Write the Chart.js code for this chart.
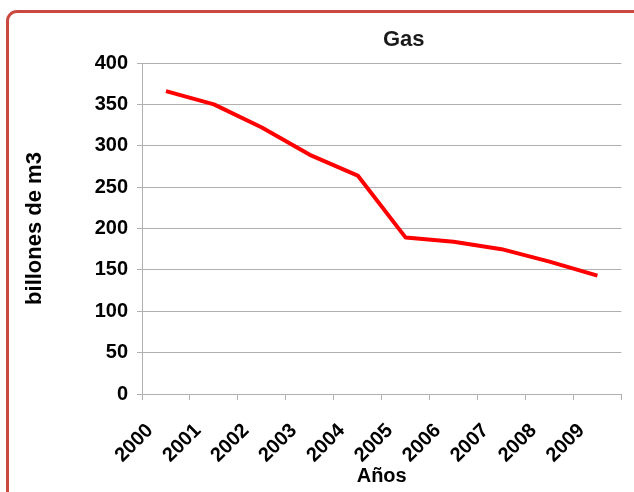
<!DOCTYPE html>
<html>
<head>
<meta charset="utf-8">
<script src="https://cdn.jsdelivr.net/npm/chart.js@4/dist/chart.umd.min.js"></script>
<style>
  html, body { margin: 0; padding: 0; background: #fff; overflow: hidden; }
  #wrap { position: relative; width: 634px; height: 492px; }
  #frame {
    position: absolute; left: 6px; top: 10px; width: 640px; height: 500px;
    border: 3px solid #c9483f; border-radius: 11px; box-sizing: border-box;
  }
  #c { position: absolute; left: 0; top: 0; }
</style>
</head>
<body>
<div id="wrap">
  <div id="frame"></div>
  <canvas id="c" width="634" height="492"></canvas>
</div>
<script>
// data
var years = ['2000', '2001', '2002', '2003', '2004', '2005', '2006', '2007', '2008', '2009'];
var gas = [366, 350, 322, 289, 264, 189, 184, 175, 160, 143];
var yTicks = [0, 50, 100, 150, 200, 250, 300, 350, 400];

var chartTitle = 'Gas';
var yTitle = 'billones de m3';
var xTitle = 'Años';

var fontFam = '"Liberation Sans", Arial, sans-serif';
var gridColor = '#b0b0b0';

// Excel style title, sits a bit right of the plot centre
var titlePlugin = {
  id: 'gasTitle',
  afterDraw: function(chart) {
    var ctx = chart.ctx;
    var a = chart.chartArea;
    ctx.save();
    ctx.font = 'bold 22px ' + fontFam;
    ctx.fillStyle = '#1a1a1a';
    ctx.textAlign = 'center';
    ctx.textBaseline = 'alphabetic';
    ctx.fillText(chartTitle, (a.left + a.right) / 2 + 22, 46);
    ctx.restore();
  }
};

var ctx = document.getElementById('c').getContext('2d');
var gasChart = new Chart(ctx, {
  type: 'line',
  data: {
    labels: years,
    datasets: [{
      label: chartTitle,
      data: gas,
      borderColor: '#ff0000',
      borderWidth: 4,
      pointRadius: 0,
      tension: 0,
      fill: false,
      borderJoinStyle: 'round',
      borderCapStyle: 'butt'
    }]
  },
  options: {
    responsive: false,
    animation: false,
    layout: { padding: { left: 0, right: 12, top: 63, bottom: 0 } },
    plugins: {
      legend: { display: false },
      tooltip: { enabled: false },
      title: { display: false }
    },
    scales: {
      x: {
        offset: true,
        grid: {
          offset: true,
          drawOnChartArea: false,
          drawTicks: true,
          tickLength: 6,
          color: gridColor
        },
        border: { color: gridColor },
        ticks: {
          autoSkip: false,
          maxRotation: 45,
          minRotation: 45,
          padding: 19,
          labelOffset: -16,
          color: '#000',
          font: { family: fontFam, size: 20, weight: 'bold' }
        },
        title: {
          display: true,
          text: xTitle,
          color: '#000',
          padding: { top: 0, bottom: 4 },
          font: { family: fontFam, size: 20, weight: 'bold' }
        },
        afterFit: function(scale) { scale.height = 98; }
      },
      y: {
        min: 0,
        max: 400,
        afterBuildTicks: function(scale) {
          scale.ticks = yTicks.map(function(v) { return { value: v }; });
        },
        grid: {
          color: gridColor,
          drawTicks: true,
          tickLength: 5
        },
        border: { color: gridColor },
        ticks: {
          padding: 9,
          color: '#000',
          font: { family: fontFam, size: 20, weight: 'bold' }
        },
        title: {
          display: true,
          text: yTitle,
          color: '#000',
          padding: { top: 22, bottom: 0 },
          font: { family: fontFam, size: 22, weight: 'bold' }
        },
        afterFit: function(scale) { scale.width = 142; }
      }
    }
  },
  plugins: [titlePlugin]
});
</script>
</body>
</html>
